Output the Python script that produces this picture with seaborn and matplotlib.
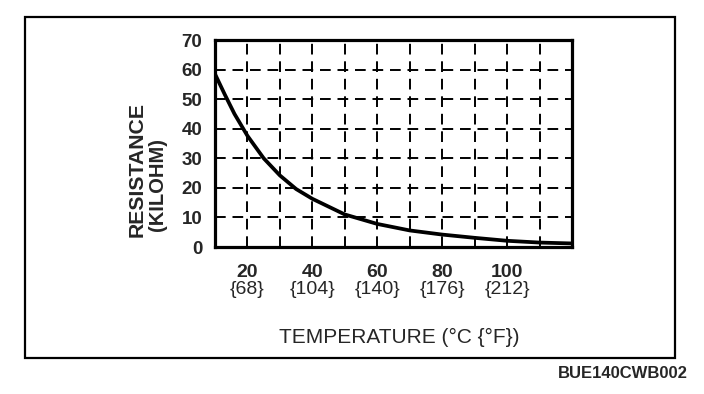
import numpy as np
import pandas as pd
import matplotlib
matplotlib.use('Agg')
import matplotlib.pyplot as plt
import matplotlib.patches as mpatches
import seaborn as sns

# ── Data ─────────────────────────────────────────────────────────────────────
temp_c = [10, 13, 16, 20, 25, 30, 35, 40, 50, 60, 70, 80, 90, 100, 110, 120]
resistance_kohm = [58.5, 51.6, 45, 37.6, 30, 24.2, 19.6, 16.3, 11, 7.8, 5.6, 4.2, 3.1, 2.1, 1.5, 1.2]
tick_c = [20, 40, 60, 80, 100]
tick_f = ['{68}', '{104}', '{140}', '{176}', '{212}']
y_ticks = [0, 10, 20, 30, 40, 50, 60, 70]

df = pd.DataFrame({'temp': temp_c, 'res': resistance_kohm})

sns.set_style('white')
plt.rcParams['font.family'] = ['Liberation Sans', 'DejaVu Sans']

W, H = 704, 394
fig = plt.figure(figsize=(W / 100, H / 100), dpi=100)
ax = fig.add_axes([215/W, 1 - 247/H, (572-215)/W, (247-40)/H])

sns.lineplot(data=df, x='temp', y='res', color='black', lw=2.7, ax=ax)

ax.set_xlim(10, 120)
ax.set_ylim(0, 70)

# dashed grid every 10 units
dash = (0, (5.5, 3.5))
for gx in range(20, 120, 10):
    ax.axvline(gx, color='black', lw=1.4, ls=dash, zorder=0)
for gy in range(10, 70, 10):
    ax.axhline(gy, color='black', lw=1.4, ls=dash, zorder=0)

for s in ax.spines.values():
    s.set_linewidth(2.3)
    s.set_color('black')

ax.set_yticks(y_ticks)
ax.set_yticklabels([str(v) for v in y_ticks], fontsize=13.5, fontweight='bold')
ax.set_xticks(tick_c)
ax.set_xticklabels([str(c) for c in tick_c], fontsize=14, fontweight='bold')
ax.tick_params(axis='x', length=0, pad=12)
ax.tick_params(axis='y', length=0, pad=9)
ax.set_xlabel('')
ax.set_ylabel('')

# Fahrenheit line under each Celsius tick
for c, f in zip(tick_c, tick_f):
    ax.text(c, -(289 - 247) / 207, f, transform=ax.get_xaxis_transform(),
            ha='center', va='center', fontsize=14)

fig.text(399/W, 1 - 337/H, 'TEMPERATURE (°C {°F})', ha='center', va='center',
         fontsize=15)
fig.text(137/W, 1 - 237/H, 'RESISTANCE', rotation=90, ha='center', va='bottom',
         fontsize=15.3, fontweight='bold')
fig.text(157/W, 1 - 231/H, '(KILOHM)', rotation=90, ha='center', va='bottom',
         fontsize=14.5, fontweight='bold')

# outer frame and figure code
fig.patches.append(mpatches.Rectangle((25/W, 1 - 358/H), 650/W, 341/H,
                                      transform=fig.transFigure, fill=False,
                                      lw=1.6, ec='black'))
fig.text(688/W, 1 - 373/H, 'BUE140CWB002', ha='right', va='center',
         fontsize=12, fontweight='bold')

fig.savefig('out.png', dpi=100)
